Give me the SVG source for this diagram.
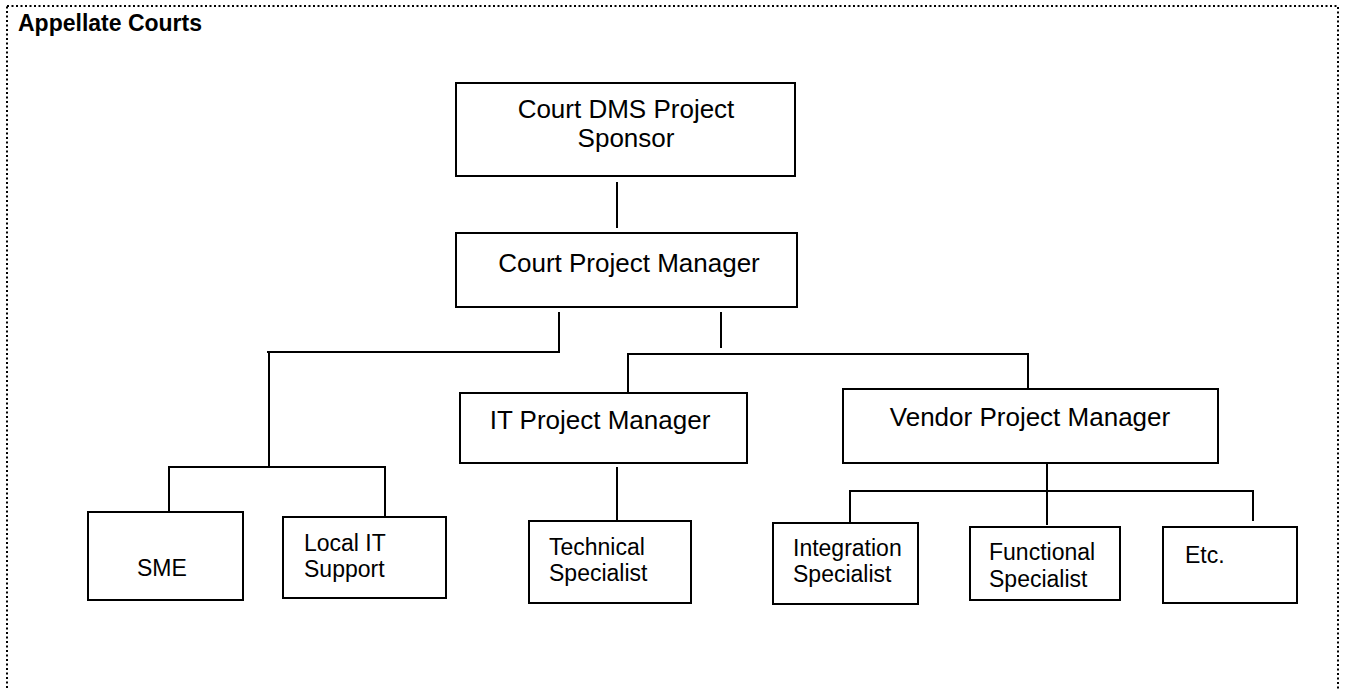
<svg xmlns="http://www.w3.org/2000/svg" width="1346" height="689" viewBox="0 0 1346 689">
  <style>
    .box { fill: #ffffff; stroke: #000000; stroke-width: 2; }
    .wire { fill: none; stroke: #000000; stroke-width: 2; }
    .frame { fill: none; stroke: #000000; stroke-width: 2; stroke-dasharray: 2 2.5; }
    .big { font-family: "Liberation Sans", Arial, sans-serif; font-size: 26px; fill: #000000; }
    .small { font-family: "Liberation Sans", Arial, sans-serif; font-size: 23px; fill: #000000; }
    .title { font-family: "Liberation Sans", Arial, sans-serif; font-size: 23px; font-weight: bold; fill: #000000; }
  </style>

  <rect width="1346" height="689" fill="#ffffff"/>

  <!-- dotted page frame -->
  <rect class="frame" x="7" y="6" width="1331" height="720"/>

  <text class="title" x="18" y="31">Appellate Courts</text>

  <!-- connectors -->
  <g id="connectors">
    <line class="wire" x1="617" y1="182" x2="617" y2="228"/>
    <!-- left branch: SME / Local IT -->
    <polyline class="wire" points="559,312 559,352 267,352"/>
    <line class="wire" x1="269" y1="352" x2="269" y2="466"/>
    <polyline class="wire" points="169,512 169,467 385,467 385,517"/>
    <!-- right branch: IT PM / Vendor PM -->
    <line class="wire" x1="721" y1="312" x2="721" y2="348"/>
    <polyline class="wire" points="628,392 628,354 1028,354 1028,389"/>
    <line class="wire" x1="617" y1="467" x2="617" y2="521"/>
    <!-- vendor team -->
    <line class="wire" x1="1047" y1="463" x2="1047" y2="525"/>
    <polyline class="wire" points="850,523 850,491 1253,491 1253,521"/>
  </g>

  <g id="sponsor">
    <rect class="box" x="456" y="83" width="339" height="93"/>
    <text class="big" x="626" y="118" text-anchor="middle">Court DMS Project</text>
    <text class="big" x="626" y="147" text-anchor="middle">Sponsor</text>
  </g>

  <g id="court-pm">
    <rect class="box" x="456" y="233" width="341" height="74"/>
    <text class="big" x="629" y="272" text-anchor="middle">Court Project Manager</text>
  </g>

  <g id="it-pm">
    <rect class="box" x="460" y="393" width="287" height="70"/>
    <text class="big" x="600" y="429" text-anchor="middle">IT Project Manager</text>
  </g>

  <g id="vendor-pm">
    <rect class="box" x="843" y="389" width="375" height="74"/>
    <text class="big" x="1030" y="426" text-anchor="middle">Vendor Project Manager</text>
  </g>

  <g id="sme">
    <rect class="box" x="88" y="512" width="155" height="88"/>
    <text class="small" x="137" y="576">SME</text>
  </g>

  <g id="local-it">
    <rect class="box" x="283" y="517" width="163" height="81"/>
    <text class="small" x="304" y="551">Local IT</text>
    <text class="small" x="304" y="577">Support</text>
  </g>

  <g id="technical">
    <rect class="box" x="529" y="521" width="162" height="82"/>
    <text class="small" x="549" y="555">Technical</text>
    <text class="small" x="549" y="581">Specialist</text>
  </g>

  <g id="integration">
    <rect class="box" x="773" y="523" width="145" height="81"/>
    <text class="small" x="793" y="556">Integration</text>
    <text class="small" x="793" y="582">Specialist</text>
  </g>

  <g id="functional">
    <rect class="box" x="970" y="527" width="150" height="73"/>
    <text class="small" x="989" y="560">Functional</text>
    <text class="small" x="989" y="587">Specialist</text>
  </g>

  <g id="etc">
    <rect class="box" x="1163" y="527" width="134" height="76"/>
    <text class="small" x="1185" y="563">Etc.</text>
  </g>
</svg>
